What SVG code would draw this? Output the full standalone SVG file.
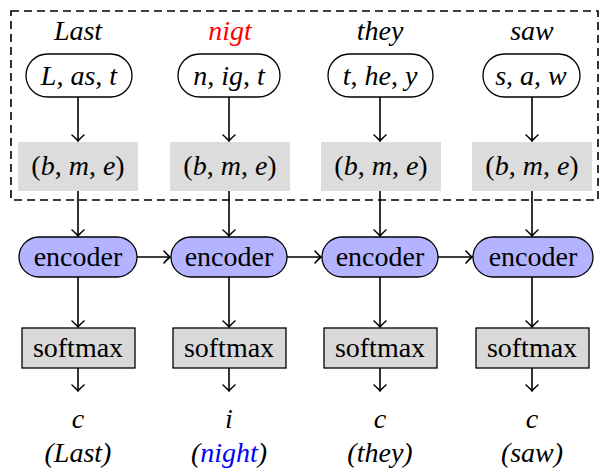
<svg xmlns="http://www.w3.org/2000/svg" width="602" height="470" viewBox="0 0 602 470">
<defs>
<marker id="arr" markerUnits="userSpaceOnUse" markerWidth="16" markerHeight="16" refX="0" refY="0" viewBox="-8 -8 16 16" orient="auto" overflow="visible">
<path d="M-6,-6 Q-2,-1.5 0,0 Q-2,1.5 -6,6" fill="none" stroke="#000" stroke-width="1.6" stroke-linecap="round"/>
</marker>
</defs>
<rect x="0" y="0" width="602" height="470" fill="#fff"/>
<rect x="11" y="11" width="587" height="189" fill="none" stroke="#000" stroke-width="1.6" stroke-dasharray="8,5"/>

<g id="col1">
<text font-family="Times New Roman" font-size="28" text-anchor="middle" font-style="italic" x="78" y="40">Last</text>
<g id="w1"><rect fill="#fff" stroke="#000" stroke-width="1.3" x="26" y="54" width="106" height="43" rx="21.5"/><text font-family="Times New Roman" font-size="28" text-anchor="middle" font-style="italic" x="79" y="85">L<tspan font-style="normal">, </tspan>as<tspan font-style="normal">, </tspan>t</text></g>
<g id="b1"><rect fill="#dcdcdc" x="18" y="142" width="120" height="49"/><text font-family="Times New Roman" font-size="28" text-anchor="middle" x="78" y="175">(<tspan font-style="italic">b</tspan>, <tspan font-style="italic">m</tspan>, <tspan font-style="italic">e</tspan>)</text></g>
<g id="e1"><rect fill="#b3b3ff" stroke="#000" stroke-width="1.3" x="19" y="237" width="118" height="40" rx="20"/><text font-family="Times New Roman" font-size="28" text-anchor="middle" x="78" y="266">encoder</text></g>
<g id="s1"><rect fill="#d9d9d9" stroke="#000" stroke-width="1.3" x="22" y="328" width="113" height="40"/><text font-family="Times New Roman" font-size="28" text-anchor="middle" x="78" y="357">softmax</text></g>
<text font-family="Times New Roman" font-size="28" text-anchor="middle" font-style="italic" x="78" y="428">c</text>
<text font-family="Times New Roman" font-size="28" text-anchor="middle" font-style="italic" x="78" y="462">(Last)</text>
</g>

<g id="col2">
<text font-family="Times New Roman" font-size="28" text-anchor="middle" font-style="italic" x="230" y="40" fill="#ff0000">nigt</text>
<g id="w2"><rect fill="#fff" stroke="#000" stroke-width="1.3" x="178" y="54" width="102" height="43" rx="21.5"/><text font-family="Times New Roman" font-size="28" text-anchor="middle" font-style="italic" x="229" y="85">n<tspan font-style="normal">, </tspan>ig<tspan font-style="normal">, </tspan>t</text></g>
<g id="b2"><rect fill="#dcdcdc" x="170" y="142" width="120" height="49"/><text font-family="Times New Roman" font-size="28" text-anchor="middle" x="230" y="175">(<tspan font-style="italic">b</tspan>, <tspan font-style="italic">m</tspan>, <tspan font-style="italic">e</tspan>)</text></g>
<g id="e2"><rect fill="#b3b3ff" stroke="#000" stroke-width="1.3" x="171" y="237" width="116" height="40" rx="20"/><text font-family="Times New Roman" font-size="28" text-anchor="middle" x="229" y="266">encoder</text></g>
<g id="s2"><rect fill="#d9d9d9" stroke="#000" stroke-width="1.3" x="173" y="328" width="113" height="40"/><text font-family="Times New Roman" font-size="28" text-anchor="middle" x="229" y="357">softmax</text></g>
<text font-family="Times New Roman" font-size="28" text-anchor="middle" font-style="italic" x="229" y="428">i</text>
<text font-family="Times New Roman" font-size="28" text-anchor="middle" font-style="italic" x="229" y="462">(<tspan fill="#0000ff">night</tspan>)</text>
</g>

<g id="col3">
<text font-family="Times New Roman" font-size="28" text-anchor="middle" font-style="italic" x="380" y="40">they</text>
<g id="w3"><rect fill="#fff" stroke="#000" stroke-width="1.3" x="328" y="54" width="105" height="43" rx="21.5"/><text font-family="Times New Roman" font-size="28" text-anchor="middle" font-style="italic" x="380" y="85">t<tspan font-style="normal">, </tspan>he<tspan font-style="normal">, </tspan>y</text></g>
<g id="b3"><rect fill="#dcdcdc" x="321" y="142" width="120" height="49"/><text font-family="Times New Roman" font-size="28" text-anchor="middle" x="381" y="175">(<tspan font-style="italic">b</tspan>, <tspan font-style="italic">m</tspan>, <tspan font-style="italic">e</tspan>)</text></g>
<g id="e3"><rect fill="#b3b3ff" stroke="#000" stroke-width="1.3" x="322" y="237" width="116" height="40" rx="20"/><text font-family="Times New Roman" font-size="28" text-anchor="middle" x="380" y="266">encoder</text></g>
<g id="s3"><rect fill="#d9d9d9" stroke="#000" stroke-width="1.3" x="324" y="328" width="113" height="40"/><text font-family="Times New Roman" font-size="28" text-anchor="middle" x="380" y="357">softmax</text></g>
<text font-family="Times New Roman" font-size="28" text-anchor="middle" font-style="italic" x="380" y="428">c</text>
<text font-family="Times New Roman" font-size="28" text-anchor="middle" font-style="italic" x="380" y="462">(they)</text>
</g>

<g id="col4">
<text font-family="Times New Roman" font-size="28" text-anchor="middle" font-style="italic" x="532" y="40">saw</text>
<g id="w4"><rect fill="#fff" stroke="#000" stroke-width="1.3" x="483" y="54" width="97" height="43" rx="21.5"/><text font-family="Times New Roman" font-size="28" text-anchor="middle" font-style="italic" x="531" y="85">s<tspan font-style="normal">, </tspan>a<tspan font-style="normal">, </tspan>w</text></g>
<g id="b4"><rect fill="#dcdcdc" x="472" y="142" width="120" height="49"/><text font-family="Times New Roman" font-size="28" text-anchor="middle" x="532" y="175">(<tspan font-style="italic">b</tspan>, <tspan font-style="italic">m</tspan>, <tspan font-style="italic">e</tspan>)</text></g>
<g id="e4"><rect fill="#b3b3ff" stroke="#000" stroke-width="1.3" x="473" y="237" width="120" height="40" rx="20"/><text font-family="Times New Roman" font-size="28" text-anchor="middle" x="533" y="266">encoder</text></g>
<g id="s4"><rect fill="#d9d9d9" stroke="#000" stroke-width="1.3" x="476" y="328" width="113" height="40"/><text font-family="Times New Roman" font-size="28" text-anchor="middle" x="532" y="357">softmax</text></g>
<text font-family="Times New Roman" font-size="28" text-anchor="middle" font-style="italic" x="532" y="428">c</text>
<text font-family="Times New Roman" font-size="28" text-anchor="middle" font-style="italic" x="532" y="462">(saw)</text>
</g>

<g id="connectors" stroke="#000" stroke-width="1.6" marker-end="url(#arr)">
<line x1="78" y1="97" x2="78" y2="141"/>
<line x1="229" y1="97" x2="229" y2="141"/>
<line x1="380" y1="97" x2="380" y2="141"/>
<line x1="532" y1="97" x2="532" y2="141"/>
<line x1="78" y1="191" x2="78" y2="236"/>
<line x1="229" y1="191" x2="229" y2="236"/>
<line x1="380" y1="191" x2="380" y2="236"/>
<line x1="532" y1="191" x2="532" y2="236"/>
<line x1="78" y1="277" x2="78" y2="327"/>
<line x1="229" y1="277" x2="229" y2="327"/>
<line x1="380" y1="277" x2="380" y2="327"/>
<line x1="532" y1="277" x2="532" y2="327"/>
<line x1="78" y1="368" x2="78" y2="391"/>
<line x1="229" y1="368" x2="229" y2="391"/>
<line x1="380" y1="368" x2="380" y2="391"/>
<line x1="532" y1="368" x2="532" y2="391"/>
<line x1="137" y1="257" x2="170" y2="257"/>
<line x1="287" y1="257" x2="321" y2="257"/>
<line x1="438" y1="257" x2="472" y2="257"/>
</g>
</svg>
